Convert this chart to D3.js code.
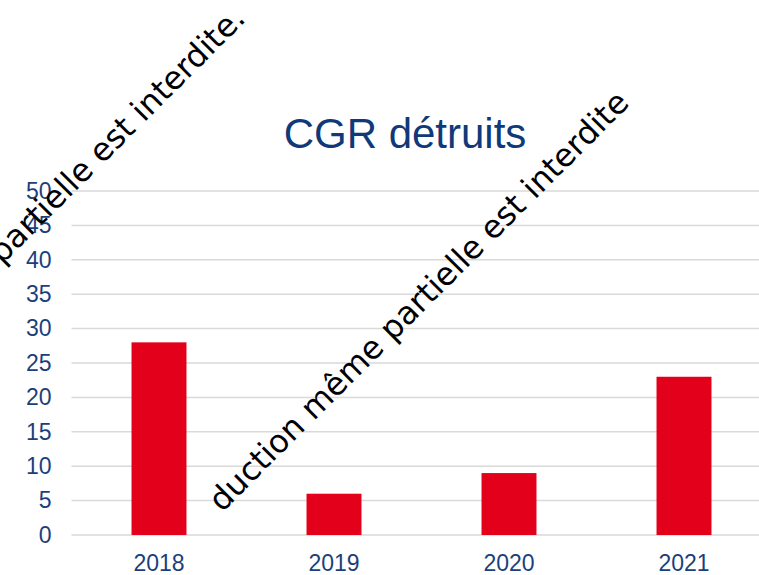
<!DOCTYPE html>
<html>
<head>
<meta charset="utf-8">
<script src="https://cdn.jsdelivr.net/npm/d3@7"></script>
<style>
  body { margin: 0; background: #fff; }
  svg { display: block; }
</style>
</head>
<body>
<div id="chart"></div>
<script>
// Chart data
const years = ['2018', '2019', '2020', '2021'];
const destroyed = [28, 6, 9, 23];
const yTicks = [0, 5, 10, 15, 20, 25, 30, 35, 40, 45, 50];
const chartTitle = 'CGR détruits';

const width = 759, height = 575;
const margin = { top: 191, right: -12.5, bottom: 40, left: 71.5 };

const svg = d3.select('#chart')
    .append('svg')
    .attr('width', width)
    .attr('height', height);

const x = d3.scaleBand()
    .domain(years)
    .range([margin.left, width - margin.right])
    .paddingInner(0.686)
    .paddingOuter(0.343);

const y = d3.scaleLinear()
    .domain([0, 50])
    .range([height - margin.bottom, margin.top]);

// Gridlines
svg.append('g')
    .selectAll('line')
    .data(yTicks)
    .enter()
    .append('line')
    .attr('x1', margin.left)
    .attr('x2', width)
    .attr('y1', d => y(d))
    .attr('y2', d => y(d))
    .attr('stroke', '#d9d9d9')
    .attr('stroke-width', 1.5);

// Y axis labels
const yAxis = svg.append('g')
    .attr('transform', `translate(${margin.left},0)`)
    .call(d3.axisLeft(y).tickValues(yTicks).tickSize(0).tickPadding(20));
yAxis.select('.domain').remove();
yAxis.attr('font-family', '"Liberation Sans", Arial, sans-serif')
    .attr('font-size', 23);
yAxis.selectAll('text')
    .attr('fill', '#1c3f7c');

// Bars
svg.selectAll('.bar')
    .data(destroyed)
    .enter()
    .append('rect')
    .attr('class', 'bar')
    .attr('x', (d, i) => x(years[i]))
    .attr('y', d => y(d))
    .attr('width', x.bandwidth())
    .attr('height', d => y(0) - y(d))
    .attr('fill', '#e2001a');

// X axis labels
const xAxis = svg.append('g')
    .attr('transform', `translate(0,${y(0)})`)
    .call(d3.axisBottom(x).tickSize(0).tickPadding(20));
xAxis.select('.domain').remove();
xAxis.attr('font-family', '"Liberation Sans", Arial, sans-serif')
    .attr('font-size', 23);
xAxis.selectAll('text')
    .attr('fill', '#1c3f7c');

// Title
svg.append('text')
    .attr('x', 405)
    .attr('y', 148)
    .attr('text-anchor', 'middle')
    .attr('font-family', '"Liberation Sans", Arial, sans-serif')
    .attr('font-size', '42px')
    .attr('fill', '#0f3a7a')
    .text(chartTitle);

// Watermarks
const wmFont = '"DejaVu Sans", Verdana, sans-serif';
svg.append('text')
    .attr('transform', 'translate(247,20) rotate(-45)')
    .attr('text-anchor', 'end')
    .attr('font-family', wmFont)
    .attr('font-size', '32px')
    .attr('fill', '#000')
    .text('partielle est interdite.');

svg.append('text')
    .attr('transform', 'translate(222,513) rotate(-45)')
    .attr('font-family', wmFont)
    .attr('font-size', '32px')
    .attr('fill', '#000')
    .text('duction même partielle est interdite');
</script>
</body>
</html>
